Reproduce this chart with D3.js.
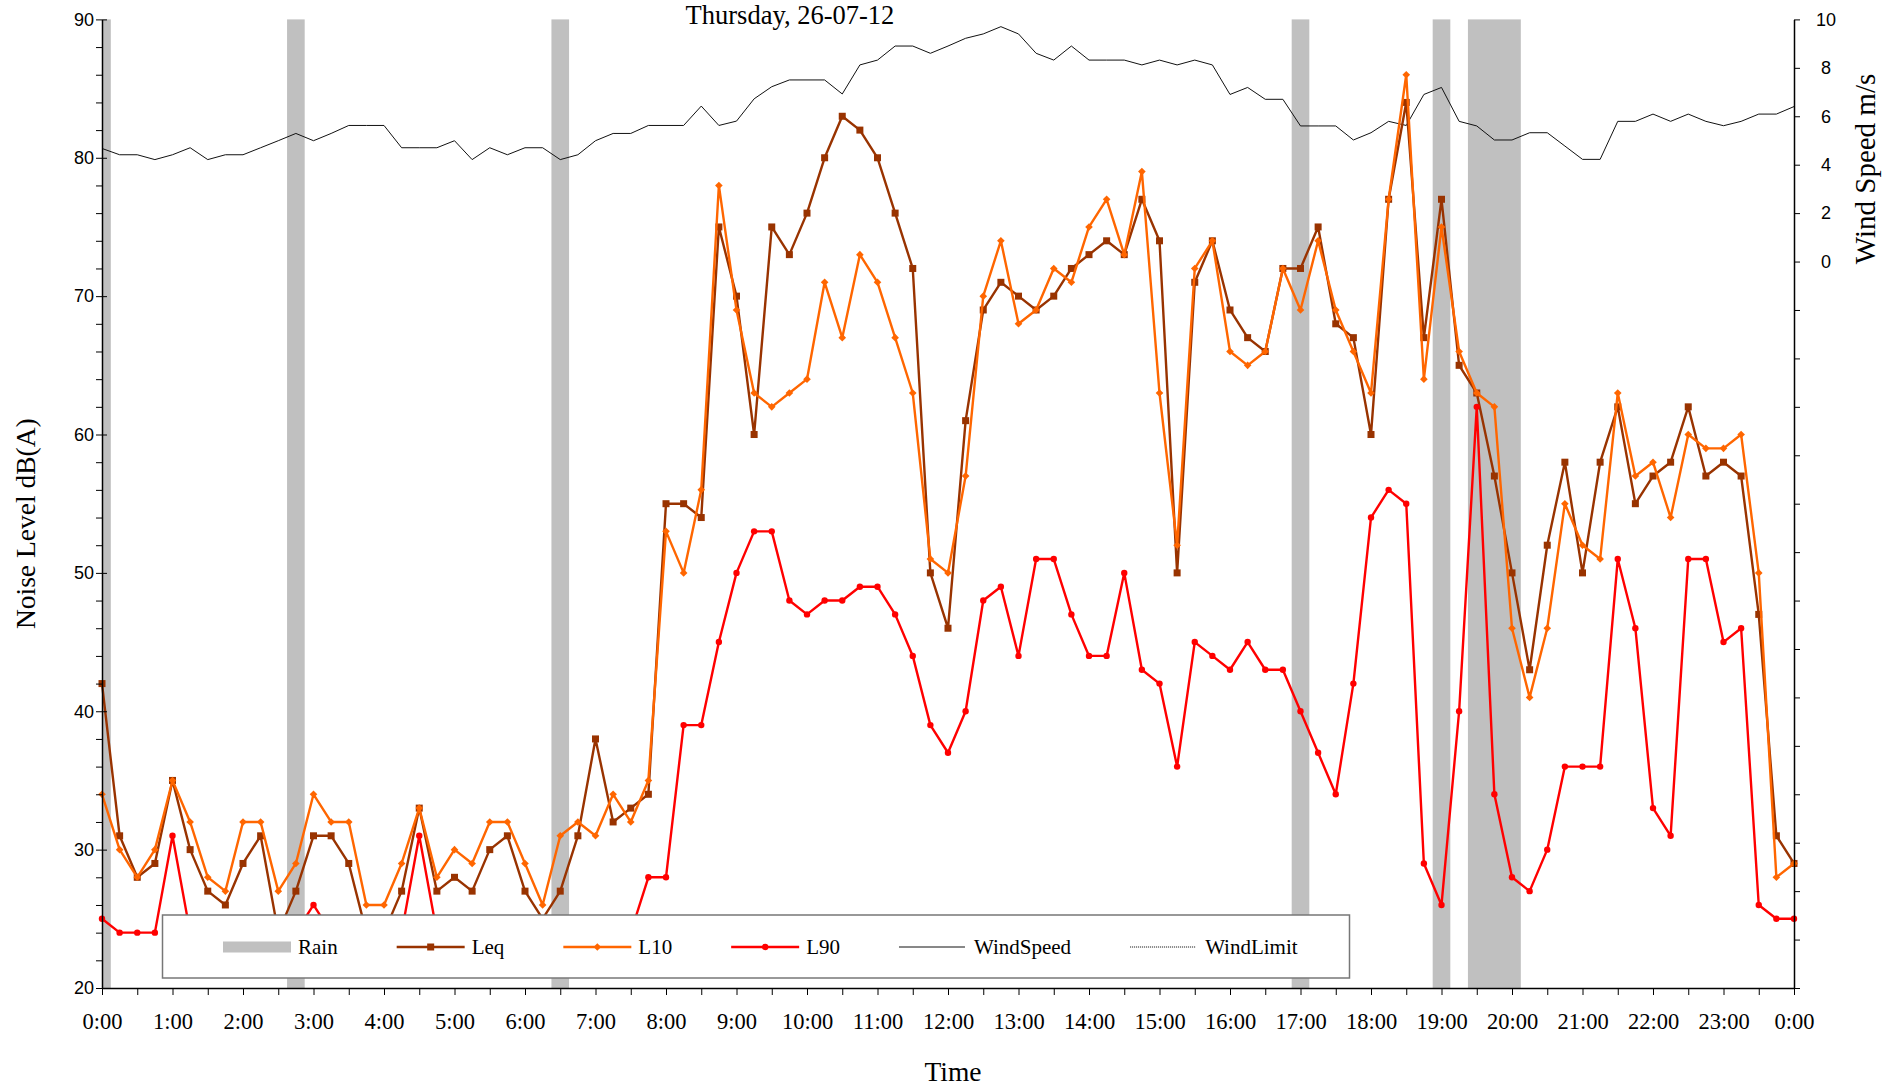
<!DOCTYPE html>
<html><head><meta charset="utf-8">
<script src="https://cdn.jsdelivr.net/npm/d3@7"></script>
<style>body{margin:0;background:#fff} svg{display:block}</style>
</head><body><svg id="c" width="1903" height="1090"></svg>
<script>
const times = ["0:00","0:15","0:30","0:45","1:00","1:15","1:30","1:45","2:00","2:15","2:30","2:45","3:00","3:15","3:30","3:45",
"4:00","4:15","4:30","4:45","5:00","5:15","5:30","5:45","6:00","6:15","6:30","6:45","7:00","7:15","7:30","7:45",
"8:00","8:15","8:30","8:45","9:00","9:15","9:30","9:45","10:00","10:15","10:30","10:45","11:00","11:15","11:30","11:45",
"12:00","12:15","12:30","12:45","13:00","13:15","13:30","13:45","14:00","14:15","14:30","14:45","15:00","15:15","15:30","15:45",
"16:00","16:15","16:30","16:45","17:00","17:15","17:30","17:45","18:00","18:15","18:30","18:45","19:00","19:15","19:30","19:45",
"20:00","20:15","20:30","20:45","21:00","21:15","21:30","21:45","22:00","22:15","22:30","22:45","23:00","23:15","23:30","23:45","24:00"];
const leq = [42,31,28,29,35,30,27,26,29,31, 24,27,31,31,29,24,24,27,33,27, 28,27,30,31,27,25,27,31,38,32,
 33,34,55,55,54,75,70,60,75,73, 76,80,83,82,80,76,72,50,46,61, 69,71,70,69,70,72,73,74,73,77,
 74,50,71,74,69,67,66,72,72,75, 68,67,60,77,84,67,77,65,63,57, 50,43,52,58,50,58,62,55,57,58, 62,57,58,57,47,31,29];
const l10 = [34,30,28,30,35,32,28,27,32,32, 27,29,34,32,32,26,26,29,33,28, 30,29,32,32,29,26,31,32,31,34,
 32,35,53,50,56,78,69,63,62,63, 64,71,67,73,71,67,63,51,50,57, 70,74,68,69,72,71,75,77,73,79,
 63,52,72,74,66,65,66,72,69,74, 69,66,63,77,86,64,75,66,63,62, 46,41,46,55,52,51,63,57,58,54, 60,59,59,60,50,28,29];
const l90 = [25,24,24,24,31,24,23,22,23,23, 22,24,26,24,23,22,22,24,31,24, 23,23,22,23,23,22,22,23,23,24,
 24,28,28,39,39,45,50,53,53,48, 47,48,48,49,49,47,44,39,37,40, 48,49,44,51,51,47,44,44,50,43,
 42,36,45,44,43,45,43,43,40,37, 34,42,54,56,55,29,26,40,62,34, 28,27,30,36,36,36,51,46,33,31, 51,51,45,46,26,25,25];
const windSpeed = [4.67,4.41,4.41,4.21,4.41,4.70,4.21,4.41,4.41,4.70, 4.99,5.29,4.99,5.29,5.62,5.62,5.62,4.70,4.70,4.70,
 4.99,4.21,4.70,4.41,4.70,4.70,4.21,4.41,4.99,5.29, 5.29,5.62,5.62,5.62,6.42,5.62,5.80,6.72,7.22,7.50,
 7.50,7.50,6.92,8.12,8.32,8.90,8.90,8.60,8.90,9.22, 9.40,9.70,9.40,8.60,8.32,8.90,8.32,8.32,8.32,8.12,
 8.32,8.12,8.32,8.12,6.90,7.19,6.70,6.70,5.60,5.60, 5.60,5.02,5.32,5.79,5.62,6.90,7.19,5.79,5.60,5.02,
 5.02,5.32,5.32,4.77,4.22,4.22,5.79,5.79,6.09,5.79, 6.09,5.79,5.61,5.79,6.09,6.09,6.40];
const rainTimes = ["0:00","2:45","6:30","17:00","19:00","19:30","19:45","20:00"];
const xTickLabels = ["0:00","1:00","2:00","3:00","4:00","5:00","6:00","7:00","8:00","9:00","10:00","11:00","12:00",
 "13:00","14:00","15:00","16:00","17:00","18:00","19:00","20:00","21:00","22:00","23:00","0:00"];
const noiseTickLabels = [20,30,40,50,60,70,80,90];
const windTickLabels = [0,2,4,6,8,10];
const legendLabels = ["Rain","Leq","L10","L90","WindSpeed","WindLimit"];
const titleText = "Thursday, 26-07-12";

const m = {l:102, r:1794, t:19.4, b:988};
const SERIF = '"Palatino Linotype","Book Antiqua",Palatino,"Liberation Serif",serif';
const SANS = '"Liberation Sans",Arial,sans-serif';
const toHours = s => { const [h, mm] = s.split(':').map(Number); return h + mm/60; };
const x = d3.scaleLinear().domain([0,24]).range([m.l, m.r]);
const y = d3.scaleLinear().domain([20,90]).range([m.b, m.t]);
const y2 = d3.scaleLinear().domain([-30,10]).range([m.b, m.t]);

const svg = d3.select('#c');
const pts = times.map((t,i) => ({h: toHours(t), leq: leq[i], l10: l10[i], l90: l90[i], w: windSpeed[i]}));

// rain bands: merge consecutive 15-minute intervals into continuous spans
const half = 0.125;
const spans = [];
rainTimes.map(toHours).sort((a,b) => a - b).forEach(h => {
  const last = spans[spans.length - 1];
  if (last && Math.abs(h - half - last[1]) < 1e-6) last[1] = h + half;
  else spans.push([h - half, h + half]);
});
svg.append('g').selectAll('rect').data(spans).join('rect')
  .attr('x', d => Math.max(m.l, x(d[0])))
  .attr('width', d => Math.min(m.r, x(d[1])) - Math.max(m.l, x(d[0])))
  .attr('y', y(90)).attr('height', y(20) - y(90)).attr('fill', '#c0c0c0');

// wind speed
svg.append('path').datum(pts)
  .attr('d', d3.line().x(d => x(d.h)).y(d => y2(d.w)))
  .attr('fill','none').attr('stroke','#111').attr('stroke-width',1);

// series
const series = [
  {key:'leq', color:'#993300', marker:'square'},
  {key:'l10', color:'#ff6600', marker:'diamond'},
  {key:'l90', color:'#ff0000', marker:'circle'}
];
function drawMarker(sel, type, color) {
  if (type === 'square') {
    sel.append('rect').attr('x', -3.5).attr('y', -3.5).attr('width', 7).attr('height', 7).attr('fill', color);
  } else if (type === 'diamond') {
    sel.append('path').attr('d', 'M0,-3.8L3.8,0L0,3.8L-3.8,0Z').attr('fill', color);
  } else {
    sel.append('circle').attr('r', 3.2).attr('fill', color);
  }
}
series.forEach(s => {
  const g = svg.append('g');
  g.append('path').datum(pts)
    .attr('d', d3.line().x(d => x(d.h)).y(d => y(d[s.key])))
    .attr('fill','none').attr('stroke', s.color).attr('stroke-width', 2.4).attr('stroke-linejoin','round');
  g.selectAll('g').data(pts).join('g')
    .attr('transform', d => `translate(${x(d.h)},${y(d[s.key])})`)
    .each(function(){ drawMarker(d3.select(this), s.marker, s.color); });
});

// axes
const xAxis = d3.axisBottom(x).tickValues(d3.range(0, 24.01, 0.5))
  .tickFormat(d => Number.isInteger(d) ? xTickLabels[d] : '')
  .tickSize(7).tickSizeOuter(0).tickPadding(18);
const gx = svg.append('g').attr('transform', `translate(0,${m.b})`).call(xAxis);
gx.selectAll('text').attr('font-family', SERIF).attr('font-size', 22.5).attr('fill','#000');

const yAxis = d3.axisLeft(y).tickValues(d3.range(20, 90.01, 2))
  .tickFormat(d => noiseTickLabels.includes(d) ? d : '')
  .tickSize(6).tickSizeOuter(0).tickPadding(2);
const gy = svg.append('g').attr('transform', `translate(${m.l},0)`).call(yAxis);
gy.selectAll('text').attr('font-family', SANS).attr('font-size', 18).attr('fill','#000');
gy.selectAll('.tick').filter(d => noiseTickLabels.includes(d)).append('line')
  .attr('x1', 0).attr('x2', 5).attr('stroke', '#000');

const y2Axis = d3.axisRight(y2).tickValues(d3.range(-30, 10.01, 2))
  .tickFormat(d => windTickLabels.includes(d) ? d : '')
  .tickSize(6).tickSizeOuter(0).tickPadding(26);
const gy2 = svg.append('g').attr('transform', `translate(${m.r},0)`).call(y2Axis);
gy2.selectAll('text').attr('font-family', SANS).attr('font-size', 18).attr('fill','#000').attr('text-anchor','middle');

[gx, gy, gy2].forEach(g => { g.select('.domain').attr('stroke','#000').attr('stroke-width',1.5); g.selectAll('.tick line').attr('stroke','#000'); });

// titles
svg.append('text').attr('x', 790).attr('y', 24).attr('text-anchor','middle')
  .attr('font-family', SERIF).attr('font-size', 26.5).text(titleText);
svg.append('text').attr('x', (m.l + m.r)/2 + 5).attr('y', 1081).attr('text-anchor','middle')
  .attr('font-family', SERIF).attr('font-size', 27.5).text('Time');
svg.append('text').attr('transform', `translate(35,${(m.t + m.b)/2 + 20}) rotate(-90)`).attr('text-anchor','middle')
  .attr('font-family', SERIF).attr('font-size', 27.5).text('Noise Level dB(A)');
svg.append('text').attr('transform', `translate(1875,169) rotate(-90)`).attr('text-anchor','middle')
  .attr('font-family', SERIF).attr('font-size', 29).text('Wind Speed m/s');

// legend
const lg = svg.append('g');
lg.append('rect').attr('x', 162.5).attr('y', 915).attr('width', 1187).attr('height', 63)
  .attr('fill', '#fff').attr('stroke', '#777').attr('stroke-width', 1.5);
let lx = 223; const ly = 947;
legendLabels.forEach((lab, i) => {
  const g = lg.append('g').attr('transform', `translate(${lx},${ly})`);
  if (lab === 'Rain') {
    g.append('rect').attr('x', 0).attr('y', -5.5).attr('width', 68).attr('height', 11).attr('fill', '#c0c0c0');
  } else if (lab === 'WindSpeed') {
    g.append('line').attr('x1', 0).attr('x2', 66).attr('stroke', '#111').attr('stroke-width', 1);
  } else if (lab === 'WindLimit') {
    g.append('line').attr('x1', 0).attr('x2', 66).attr('stroke', '#000').attr('stroke-width', 1).attr('stroke-dasharray', '1,1');
  } else {
    const s = series[i - 1];
    g.append('line').attr('x1', 0).attr('x2', 68).attr('stroke', s.color).attr('stroke-width', 2.4);
    const mg = g.append('g').attr('transform', 'translate(34,0)');
    drawMarker(mg, s.marker, s.color);
  }
  const t = g.append('text').attr('x', 75).attr('y', 6.5).attr('font-family', SERIF).attr('font-size', 21).text(lab);
  lx += 75 + t.node().getComputedTextLength() + 59;
});
</script></body></html>
